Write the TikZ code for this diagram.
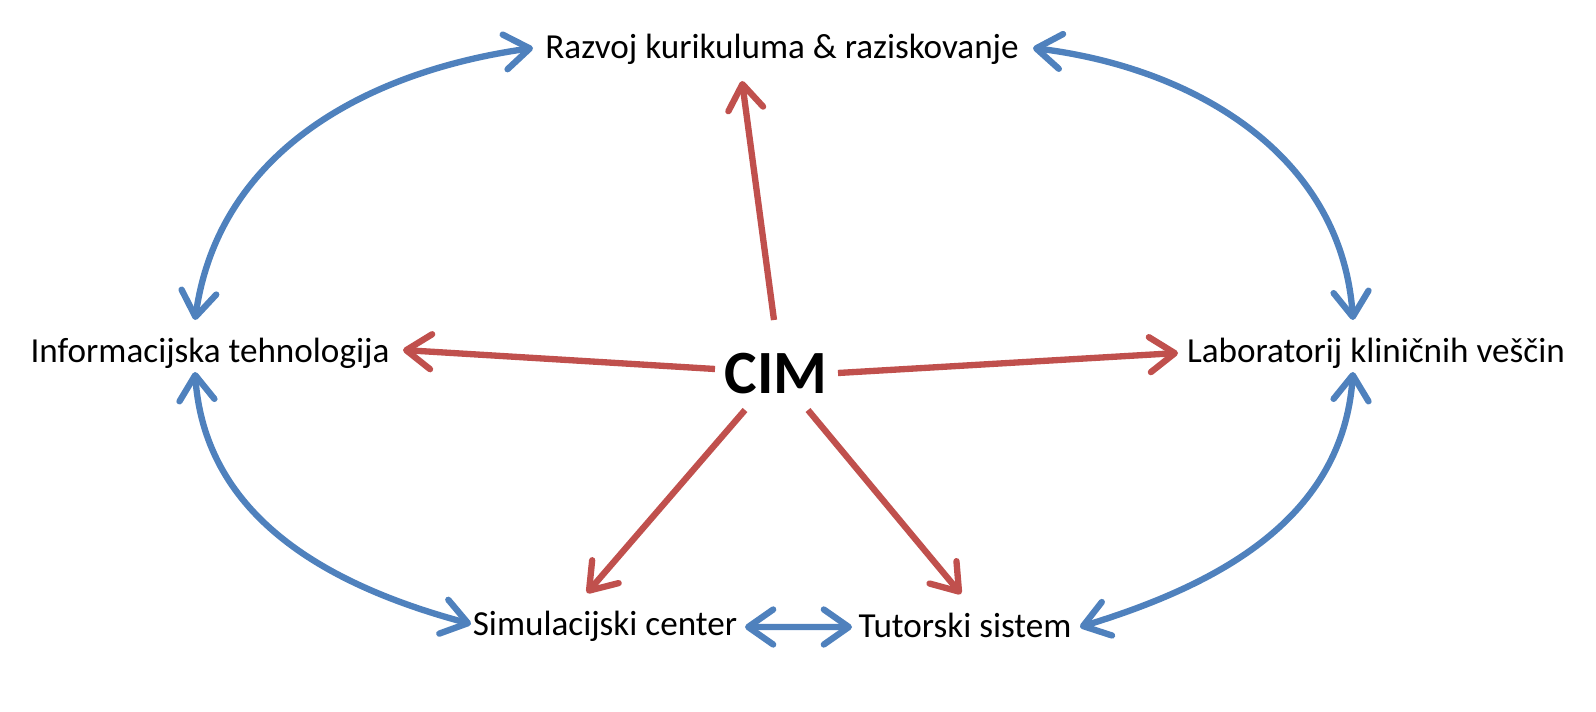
\documentclass[tikz,border=0pt]{standalone}
\usepackage{fontspec}
\setmainfont{Carlito}
\usetikzlibrary{arrows.meta}
\definecolor{rdeca}{RGB}{192,80,77}
\definecolor{modra}{RGB}{79,129,189}

\begin{document}
\begin{tikzpicture}[
  besedilo/.style={inner sep=0pt, anchor=base, font=\fontsize{20}{24}\selectfont},
  rdeca puscica/.style={draw=rdeca, line width=3.6pt, -{Straight Barb[length=5mm,width=7mm,round]}},
  modra puscica/.style={draw=modra, line width=3.6pt, {Straight Barb[length=5mm,width=7mm,round]}-{Straight Barb[length=5mm,width=7mm,round]}}
]
\useasboundingbox (0,0) rectangle (31.92,14.22);

% Vozlisca
\node[besedilo] (razvoj) at (15.64,13.04) {Razvoj kurikuluma \& raziskovanje};
\node[besedilo] (info) at (4.20,6.98) {Informacijska tehnologija};
\node[besedilo] (lab) at (27.52,6.98) {Laboratorij kliničnih veščin};
\node[besedilo] (sim) at (12.10,1.52) {Simulacijski center};
\node[besedilo] (tut) at (19.30,1.48) {Tutorski sistem};
\node[inner sep=0pt, anchor=base, font=\fontsize{35}{40}\selectfont\bfseries] (cim) at (15.52,6.36) {CIM};

% Rdece puscice iz CIM
\draw[rdeca puscica] ([shift={(-0.04,1.46)}]cim.base) -- ([shift={(-0.80,-0.44)}]razvoj.base);
\draw[rdeca puscica] ([shift={(-1.22,0.48)}]cim.base) -- ([shift={(3.86,0.24)}]info.base);
\draw[rdeca puscica] ([shift={(1.24,0.40)}]cim.base) -- ([shift={(-3.96,0.18)}]lab.base);
\draw[rdeca puscica] ([shift={(-0.62,-0.34)}]cim.base) -- ([shift={(-0.36,0.84)}]sim.base);
\draw[rdeca puscica] ([shift={(0.64,-0.34)}]cim.base) -- ([shift={(-0.08,0.86)}]tut.base);

% Modre puscice okoli
\draw[modra puscica] ([shift={(-4.98,0.22)}]razvoj.base) to[out=188,in=82] ([shift={(-0.30,0.84)}]info.base);
\draw[modra puscica] ([shift={(5.02,0.22)}]razvoj.base) to[out=-7,in=94] ([shift={(-0.46,0.84)}]lab.base);
\draw[modra puscica] ([shift={(-0.30,-0.20)}]info.base) to[out=-86,in=165] ([shift={(-2.68,0.22)}]sim.base);
\draw[modra puscica] ([shift={(-0.46,-0.20)}]lab.base) to[out=-94,in=17] ([shift={(2.30,0.20)}]tut.base);
\draw[modra puscica] ([shift={(2.80,0.16)}]sim.base) -- ([shift={(-2.26,0.20)}]tut.base);

\end{tikzpicture}
\end{document}
